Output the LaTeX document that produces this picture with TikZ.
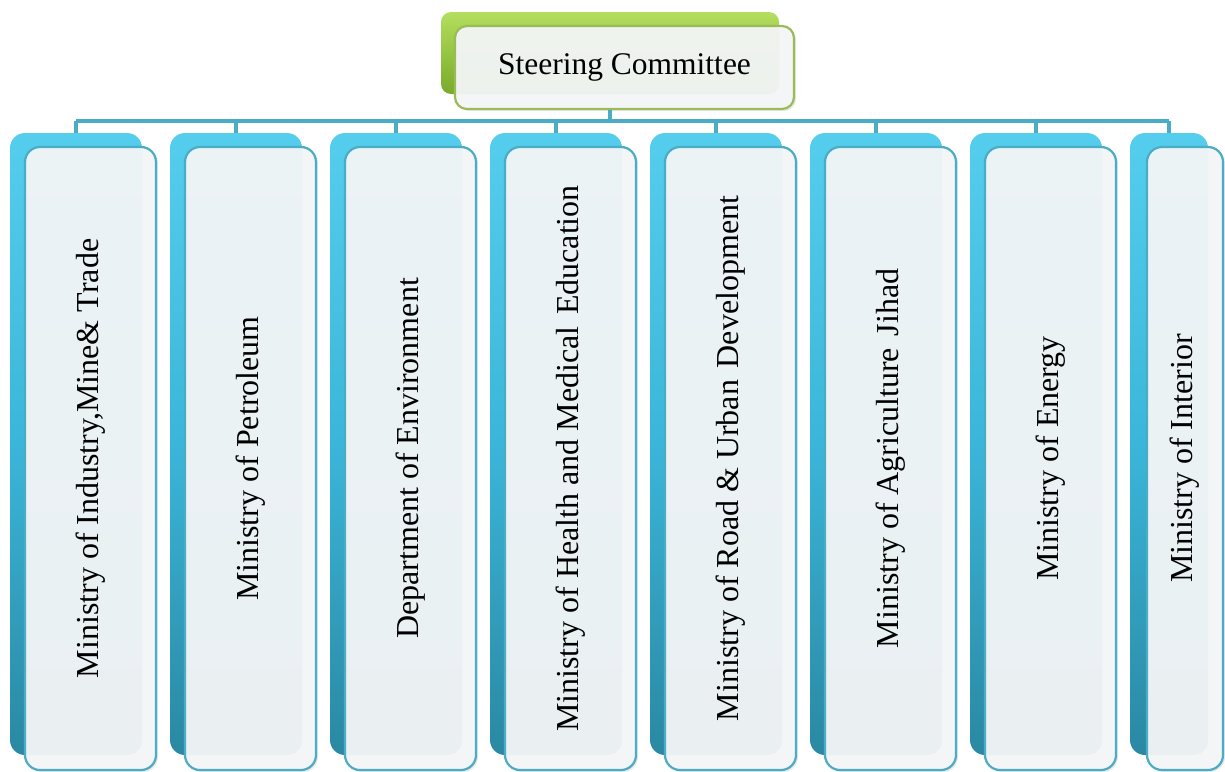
\documentclass[tikz,border=0pt]{standalone}
\usepackage{fontspec}
\setmainfont{Liberation Serif}
\usetikzlibrary{shadows}
\definecolor{lineblue}{HTML}{4BACC6}
\definecolor{backtop}{HTML}{55CEEE}
\definecolor{backmid}{HTML}{3AB6DA}
\definecolor{backbot}{HTML}{2A88A3}
\definecolor{frontfill}{HTML}{F4F6F7}
\definecolor{greentop}{HTML}{B3DE5E}
\definecolor{greenmid}{HTML}{96C443}
\definecolor{greenbot}{HTML}{7AAA2C}
\definecolor{greenline}{HTML}{9BBB59}
\begin{document}
\begin{tikzpicture}[x=1pt,y=-1pt,
  conn/.style={draw=lineblue,line width=4pt},
  backbox/.style={rounded corners=15pt,minimum width=132pt,minimum height=622pt,inner sep=0pt,
    top color=backtop,bottom color=backbot,middle color=backmid,draw=none},
  frontbox/.style={rounded corners=15pt,rotate=90,minimum width=623pt,minimum height=131pt,inner sep=0pt,
    fill=frontfill,fill opacity=0.95,text opacity=1,draw=lineblue,line width=2.2pt,
    font=\fontsize{32}{38}\selectfont,text=black,
    drop shadow={opacity=0.18,shadow xshift=2pt,shadow yshift=-2pt}},
  gback/.style={rounded corners=10pt,minimum width=338pt,minimum height=82pt,inner sep=0pt,
    top color=greentop,bottom color=greenbot,middle color=greenmid,draw=none},
  gfront/.style={rounded corners=12pt,minimum width=339pt,minimum height=83pt,inner sep=0pt,
    fill=frontfill,fill opacity=0.95,text opacity=1,draw=greenline,line width=2.2pt,
    font=\fontsize{31.5}{38}\selectfont,text=black,
    drop shadow={opacity=0.18,shadow xshift=2pt,shadow yshift=-2pt}}]
\useasboundingbox (0,0) rectangle (1225,771);
% header
\node[gback] (scb) at (610,53) {};
\node[gfront] (sc) at (624.5,67.5) {Steering Committee};
% back boxes
\foreach \i in {0,...,6}{
  \node[backbox] (b\i) at ({76+160*\i},444) {};
}
\node[backbox,minimum width=78pt] (b7) at (1169,444) {};
% connectors
\coordinate (bus) at (610,121);
\draw[conn] (sc.south -| bus) -- (bus);
\draw[conn] (b0.north |- bus) -- (b7.north |- bus);
\foreach \i in {0,...,7}{
  \draw[conn] (b\i.north |- bus) -- (b\i.north);
}
% front boxes
\node[frontbox] (f0) at (90.5,458.5) {Ministry of Industry,Mine\& Trade};
\node[frontbox] (f1) at (250.5,458.5) {Ministry of Petroleum};
\node[frontbox] (f2) at (410.5,458.5) {Department of Environment};
\node[frontbox] (f3) at (570.5,458.5) {Ministry of Health and Medical\hspace{0.36em}Education};
\node[frontbox] (f4) at (730.5,458.5) {Ministry of Road \& Urban\hspace{0.36em}Development};
\node[frontbox] (f5) at (890.5,458.5) {Ministry of Agriculture\hspace{0.36em}Jihad};
\node[frontbox] (f6) at (1050.5,458.5) {Ministry of Energy};
\node[frontbox,minimum height=76pt] (f7) at (1185,458.5) {Ministry of Interior};
\end{tikzpicture}
\end{document}
